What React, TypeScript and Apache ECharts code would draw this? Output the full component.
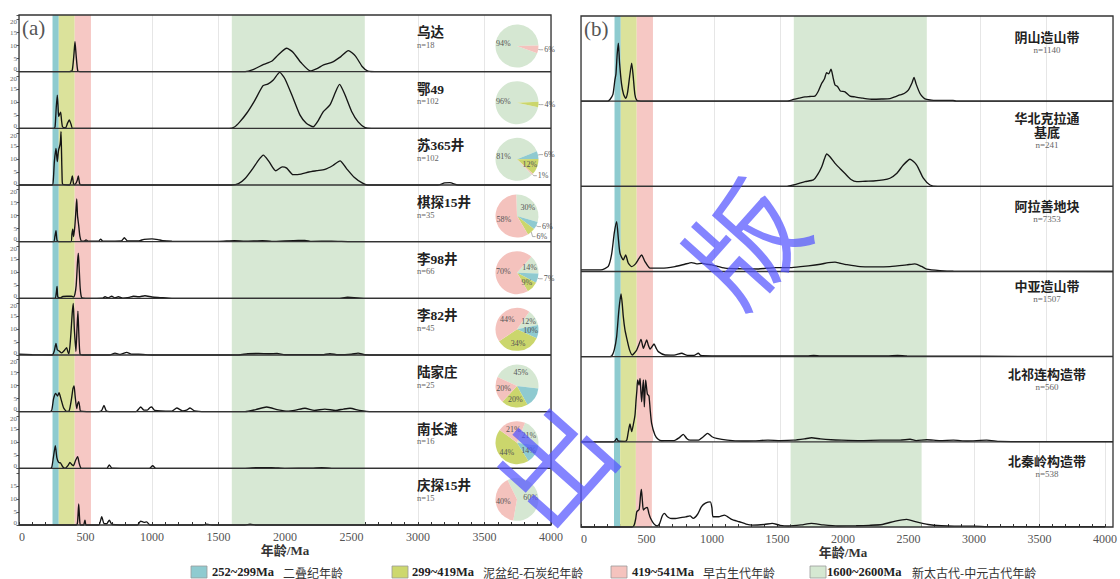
import React, { useEffect, useRef } from "react";
import * as echarts from "echarts";

// ---------------- axis ticks ----------------
const ageMin = 0;
const ageMax = 4000;
const ageStep = 500;
const densityTicksA = [0, 5, 10, 15, 20];

// ---------------- reference age bands ----------------
const bandRanges: [number, number][] = [
  [252, 299],
  [299, 419],
  [419, 541],
  [1600, 2600],
];
const bandAgeLabels = ["252~299Ma", "299~419Ma", "419~541Ma", "1600~2600Ma"];
const bandPeriodLabels = ["二叠纪年龄", "泥盆纪-石炭纪年龄", "早古生代年龄", "新太古代-中元古代年龄"];

// ---------------- panel (a) ----------------
const sitesA = ["乌达", "鄂49", "苏365井", "棋探15井", "李98井", "李82井", "陆家庄", "南长滩", "庆探15井"];
const countsA = [18, 102, 102, 35, 66, 45, 25, 16, 15];
// pie shares (%) : 1600~2600Ma, 252~299Ma, 299~419Ma, 419~541Ma
const shareArchean = [94, 96, 81, 30, 14, 12, 45, 21, 60];
const sharePermian = [0, 0, 6, 6, 7, 10, 15, 14, 0];
const shareDevCarb = [0, 4, 12, 6, 9, 34, 20, 44, 0];
const shareEarlyPal = [6, 0, 1, 58, 70, 44, 20, 21, 40];

const kdeWuda = [[0,0],[380,0],[400,0.5],[412,6],[421,11.5],[430,6],[442,0.3],[460,0],[1700,0],[1760,0.8],[1840,2.8],[1900,4],[1950,6.5],[2013,9],[2060,7.5],[2120,3.5],[2190,0.3],[2240,1.2],[2290,2.6],[2360,3.8],[2420,5.8],[2476,8.1],[2530,6],[2580,2],[2624,0.2],[2700,0],[4000,0]];
const kdeE49 = [[0,0],[260,0],[271,0.5],[280,8],[288,12.8],[294,8],[298,4.6],[306,5.5],[313,6.2],[320,3],[328,0.5],[350,0.2],[365,2],[378,3.2],[392,1.5],[403,0],[1580,0],[1620,0.5],[1660,2.5],[1712,5.8],[1770,10.5],[1835,16.4],[1870,17],[1910,18.5],[1960,21.5],[2000,19],[2062,11.5],[2113,5.1],[2160,2],[2212,0.6],[2250,3],[2288,6.4],[2338,9],[2380,14],[2410,16.9],[2450,13],[2501,6.5],[2550,2.5],[2602,0.3],[2650,0],[4000,0]];
const kdeSu365 = [[0,0],[250,0],[258,2],[266,9],[278,14.1],[284,11],[288,9],[294,12],[298,13.5],[308,15.4],[312,17],[316,20.5],[320,12],[324,3],[328,0.3],[380,0],[392,1.5],[401,3.5],[410,0.5],[420,0.2],[436,1.5],[446,3.5],[456,0.5],[470,0],[1600,0],[1650,0.5],[1700,2.5],[1760,6.5],[1800,9.5],[1837,11.5],[1880,9],[1930,5.5],[1980,7],[2013,6.5],[2060,4],[2120,4.2],[2180,5],[2240,5.5],[2300,6],[2360,7.5],[2414,9.3],[2460,6.5],[2520,3],[2580,0.8],[2620,0],[3150,0],[3200,0.8],[3240,0.9],[3300,0],[4000,0]];
const kdeQitan15 = [[0,0],[260,0],[270,2],[278,4.2],[286,0.5],[300,0],[390,0],[398,3],[404,4.8],[410,2],[420,6],[428,12],[434,16.4],[440,10],[449,6.2],[458,2],[471,0.2],[490,0.2],[504,0.7],[520,0.2],[600,0.2],[614,1],[630,0.2],[770,0.3],[792,1.5],[815,0.3],[900,0.3],[940,0.9],[1000,1.1],[1045,0.8],[1080,0.4],[1150,0.2],[1500,0.1],[1620,0.4],[1700,0.2],[1830,0.4],[1900,0.1],[2100,0.5],[2150,0.5],[2200,0.1],[2350,0.2],[2500,0],[4000,0]];
const kdeLi98 = [[0,0],[270,0],[280,2],[286,4.6],[292,0.5],[310,0.2],[330,0.7],[360,0.8],[395,0.8],[410,0.5],[420,1.5],[430,5],[440,14],[446,17.4],[452,12],[460,4],[471,0.3],[500,0],[630,0.1],[647,0.6],[670,0.2],[697,0.8],[720,0.2],[747,0.6],[780,0.1],[830,0.4],[860,0.8],[900,0.6],[947,1.0],[1000,0.5],[1060,0.3],[1150,0],[2400,0],[2470,0.4],[2520,0.3],[2600,0],[4000,0]];
const kdeLi82 = [[0,0.3],[100,0.1],[250,0],[265,1.5],[278,4.5],[288,2],[303,1.5],[320,0.8],[345,2],[358,2.8],[368,1.2],[376,0.5],[390,8],[400,16],[408,19.8],[416,10],[428,1.4],[436,10],[443,16.9],[450,8],[459,0.3],[480,0],[680,0],[722,0.7],[760,0.2],[810,1.0],[850,0.3],[900,0.3],[1000,0],[1650,0],[1720,0.5],[1800,0.6],[1880,0.5],[1940,0.6],[2000,0.1],[2280,0.1],[2338,0.5],[2400,0.1],[2500,0.3],[2549,0.7],[2600,0.1],[2700,0],[4000,0]];
const kdeLujiazhuang = [[0,0],[230,0],[246,0.5],[260,5],[276,7],[290,6],[301,7.3],[315,5],[335,1.5],[358,0.1],[375,0.2],[383,1.5],[395,5],[406,9],[414,9.9],[422,6],[434,1.2],[441,3],[449,3.8],[456,2],[464,0.2],[600,0],[622,0.5],[639,2.4],[655,0.4],[680,0],[880,0],[900,1],[915,1.8],[940,0.6],[965,0.6],[985,1.6],[998,1.8],[1020,0.5],[1150,0.2],[1186,1.4],[1230,0.3],[1260,0.6],[1286,1.4],[1320,0.3],[1400,0],[1700,0],[1780,0.8],[1862,1.8],[1950,0.7],[2020,0.2],[2080,0.6],[2150,1.3],[2220,0.5],[2300,1.0],[2380,0.5],[2440,1.0],[2489,1.3],[2560,0.5],[2650,0],[4000,0]];
const kdeNanchangtan = [[0,0],[235,0],[246,0.3],[258,4],[273,8.7],[285,4],[298,2.3],[313,2],[330,0.5],[346,0],[370,1.2],[383,2.3],[396,1.5],[409,1],[425,3],[441,4.5],[452,2],[464,0.2],[480,0],[660,0],[679,1.3],[700,0.1],[980,0],[1005,1.0],[1030,0],[1700,0],[1800,0.3],[1900,0.3],[2000,0],[2200,0.1],[2276,0.3],[2350,0],[4000,0]];
const kdeQingtan15 = [[0,0],[430,0],[440,1],[449,8.1],[456,2],[462,0],[485,0],[496,1.9],[505,0],[600,0],[622,3.2],[640,0.5],[660,0.5],[679,1.9],[700,0.2],[890,0],[915,1.5],[940,1.0],[960,1.2],[985,0],[1380,0],[1411,0.3],[1450,0],[1700,0],[1737,0.3],[1780,0],[4000,0]];
const kdeA = [kdeWuda, kdeE49, kdeSu365, kdeQitan15, kdeLi98, kdeLi82, kdeLujiazhuang, kdeNanchangtan, kdeQingtan15];

// ---------------- panel (b) ----------------
const regionsB = ["阴山造山带", "华北克拉通\n基底", "阿拉善地块", "中亚造山带", "北祁连构造带", "北秦岭构造带"];
const countsB = [1140, 241, 7353, 1507, 560, 538];

const kdeYinshan = [[0,0],[200,0],[218,2],[240,8],[255,25],[263,32],[272,55],[281,68],[290,45],[305,20],[320,8],[336,3.4],[350,10],[365,28],[381,44.5],[392,30],[405,8],[419,1],[450,0],[1550,0],[1597,2],[1640,3.5],[1684,5],[1720,5.5],[1759,6],[1785,12],[1810,21],[1830,26],[1847,33.5],[1862,32],[1880,37.5],[1895,28],[1910,19],[1930,17],[1950,12],[1985,11],[2023,6],[2060,5],[2120,3.5],[2195,2.2],[2260,2.5],[2323,3],[2360,5],[2398,7.3],[2430,9],[2461,13],[2490,22],[2504,28],[2520,20],[2549,9],[2575,4],[2599,2],[2650,1],[2797,1],[2820,0],[4000,0]];
const kdeNCCBasement = [[0,0],[1550,0],[1597,1.6],[1640,3.5],[1684,5.5],[1747,7.5],[1780,14],[1810,23],[1830,32],[1847,38],[1870,35],[1910,27],[1947,21],[1985,15],[2030,8],[2073,5.5],[2140,6],[2198,6.3],[2273,7.5],[2323,9.5],[2373,15],[2423,25],[2474,31.8],[2524,25],[2574,9.5],[2624,1.6],[2680,0],[4000,0]];
const kdeAlxa = [[0,2],[150,2],[205,6],[230,20],[250,45],[268,58.6],[280,40],[293,21.5],[318,13.6],[336,19.5],[355,10],[381,5.8],[410,9],[435,15],[456,19.5],[480,12],[519,3.9],[607,3.9],[707,5.8],[780,8.5],[832,10.5],[870,9],[907,9.7],[945,8.5],[983,7.8],[1083,3.9],[1200,3.2],[1333,3],[1459,4.6],[1584,4.6],[1709,6.6],[1800,8.5],[1860,10.5],[1910,11],[1947,9.7],[2000,8],[2098,5.8],[2200,5.5],[2323,5.8],[2449,7.8],[2511,9],[2560,6],[2599,2.7],[2699,1],[2800,0.3],[4000,0]];
const kdeCAOB = [[0,0],[215,0],[231,0.8],[250,8],[268,23.5],[285,55],[301,73.6],[310,62],[318,47],[330,32],[344,21.6],[365,8],[386,2],[400,4],[419,7.9],[435,14],[451,20.4],[469,9.9],[482,15],[494,19.6],[507,13],[519,9],[535,12],[549,14.9],[565,10],[581,5.9],[632,2],[700,1.8],[757,4],[800,1.5],[850,1.5],[882,4],[900,1.5],[1000,1],[1200,0.8],[1700,1],[1750,1.5],[1800,1],[2300,0.8],[2380,1.5],[2450,0.8],[3000,0.5],[4000,0.3]];
const kdeNQilian = [[0,0],[240,0],[255,1],[268,4],[280,1],[330,0.5],[344,2],[356,12],[368,21],[381,12],[393,20],[406,31.5],[414,49],[420,60],[426,72.6],[436,66.7],[444,74.5],[450,60],[456,47],[463,62],[469,72.6],[476,41],[481,58],[486,72.6],[499,56],[511,53.8],[520,38],[531,21.7],[556,8],[580,3],[607,1.3],[650,1.5],[700,1.5],[740,5],[769,8.8],[795,4],[820,2],[880,2],[920,6],[952,10],[985,6],[1020,4],[1100,2],[1208,1],[1300,1.2],[1406,2],[1500,1.5],[1600,2],[1680,3.5],[1734,4.8],[1800,3.5],[1880,2.5],[1960,2],[2100,1.5],[2250,2],[2400,2],[2474,3],[2520,1.5],[2600,2.5],[2700,1.5],[2800,2],[2900,1],[3050,2],[3150,0.5],[3300,0.3],[4000,0.2]];
const kdeNQinling = [[0,0],[390,0],[406,2.3],[418,10],[426,18],[444,20.7],[455,38],[461,44],[468,32],[476,20],[490,22],[506,23],[518,16],[531,10.2],[555,4],[581,1.2],[600,4],[620,13],[637,16],[660,12],[682,10.2],[720,10],[760,11],[800,12],[832,13],[857,10.2],[890,15],[920,24],[950,28],[987,29.5],[1000,22],[1008,12],[1050,12],[1095,14],[1150,9],[1208,6.2],[1260,3.5],[1308,2.3],[1400,3],[1459,4.3],[1520,2],[1584,1.2],[1680,2.5],[1759,4.3],[1850,2.5],[1960,1.2],[2100,1.5],[2200,2],[2300,3],[2400,7],[2486,9],[2560,6],[2650,3],[2750,1.5],[2850,1],[3000,1],[3100,0.5],[4000,0.3]];
const kdeB = [kdeYinshan, kdeNCCBasement, kdeAlxa, kdeCAOB, kdeNQilian, kdeNQinling];

// ---------------- layout & style (not data) ----------------
const LA = { left: 19, top: 15, width: 532, rowH: 56.667, yMax: 21.8 };
const LB = { left: 581, top: 16, width: 532, rowH: 85.17, yMax: 100 };
const bandColors = ["#8ecbcf", "#dbe29b", "#f6c8c4", "#d7e8d4"];
const pieColors = ["#d5e7d2", "#8fcad0", "#cbd66c", "#f4c2bd"];
const legendSwatchColors = ["#8fcbd0", "#cdd86e", "#f5c3be", "#d5e8d2"];
const pieStartAngles = [-20, -12, -46, 92, 48, 55, 155, 68, 116];
const labelOffsetsB = [21, 17, 20.6, 15.4, 18.3, 19.9];
const SERIF = '"Liberation Serif", "DejaVu Serif", "Noto Sans CJK SC", serif';
const CJK = '"Noto Sans CJK SC", sans-serif';
const legendSwatchX = [191, 392, 611, 810];
const legendAgeX = [212, 412, 632, 827];
const legendPeriodX = [283, 483, 703, 912];

function buildOption() {
  const grids: any[] = [];
  const xAxes: any[] = [];
  const yAxes: any[] = [];
  const series: any[] = [];
  const graphics: any[] = [];

  const markArea = {
    silent: true,
    data: bandRanges.map((r, i) => [
      { xAxis: r[0], itemStyle: { color: bandColors[i] } },
      { xAxis: r[1] },
    ]),
  };

  const makeX = (k: number, bottom: boolean) => ({
    gridIndex: k,
    type: "value",
    min: ageMin,
    max: ageMax,
    interval: ageStep,
    axisLine: { show: false },
    splitLine: { show: true, lineStyle: { color: "#e6e6e6", width: 1 } },
    axisTick: { show: bottom, inside: true, length: 3, lineStyle: { color: "#333" } },
    minorTick: { show: bottom, splitNumber: 5, length: 3, lineStyle: { color: "#333" } },
    axisLabel: {
      show: bottom,
      fontSize: 12,
      color: "#555",
      fontFamily: SERIF,
      margin: 6,
      alignMinLabel: "left",
      formatter: (v: number) => String(v),
    },
    name: bottom ? "年龄/Ma" : "",
    nameLocation: "middle",
    nameGap: 19,
    nameTextStyle: { fontSize: 13, fontWeight: "bold", color: "#333", fontFamily: SERIF },
  });

  // panel a rows
  kdeA.forEach((curve, i) => {
    const k = grids.length;
    const top = LA.top + i * LA.rowH;
    const last = i === kdeA.length - 1;
    grids.push({ left: LA.left, top, width: LA.width, height: LA.rowH });
    xAxes.push(makeX(k, last));
    yAxes.push({
      gridIndex: k,
      type: "value",
      min: 0,
      max: LA.yMax,
      interval: 5,
      axisLine: { show: false },
      splitLine: { show: false },
      axisTick: { show: true, length: 2.5, lineStyle: { color: "#555" } },
      axisLabel: {
        fontSize: 7,
        color: "#666",
        fontFamily: SERIF,
        margin: 2,
        formatter: (v: number) => {
          if (!densityTicksA.includes(v)) return "";
          if (v === 0) return "{lo|0}";
          if (v === 20) return last ? "" : "{hi|20}";
          return String(v);
        },
        rich: {
          lo: { fontSize: 7, color: "#666", fontFamily: SERIF, padding: [0, 0, 5, 0] },
          hi: { fontSize: 7, color: "#666", fontFamily: SERIF, padding: [5, 0, 0, 0] },
        },
      },
    });
    series.push({
      type: "line",
      xAxisIndex: k,
      yAxisIndex: k,
      data: curve,
      showSymbol: false,
      smooth: 0.2,
      clip: false,
      silent: true,
      z: 3,
      lineStyle: { color: "#151515", width: 1.35 },
      markArea,
    });

    const shares = [shareArchean[i], sharePermian[i], shareDevCarb[i], shareEarlyPal[i]];
    const pieData = shares
      .map((v, j) => ({ v, j }))
      .filter((d) => d.v > 0)
      .map((d) => {
        const small = d.v <= 7;
        return {
          value: d.v,
          name: bandAgeLabels[(d.j + 3) % 4],
          itemStyle: { color: pieColors[d.j] },
          label: small ? { position: "outside", distanceToLabelLine: 1 } : { position: "inside" },
          labelLine: small ? { show: true, length: 2, length2: 3, lineStyle: { color: "#777", width: 0.6 } } : { show: false },
        };
      });
    series.push({
      type: "pie",
      center: [517, top + 31],
      radius: 21.5,
      startAngle: pieStartAngles[i],
      clockwise: true,
      silent: true,
      avoidLabelOverlap: true,
      z: 4,
      label: { fontSize: 8, color: "#555", fontFamily: SERIF, formatter: "{c}%" },
      data: pieData,
    });

    graphics.push({
      type: "text",
      x: 417,
      y: top + 17.5,
      z: 110,
      style: { text: sitesA[i], fill: "#222", fontSize: 13.5, fontWeight: "bold", fontFamily: SERIF, textAlign: "left", textVerticalAlign: "middle" },
    });
    graphics.push({
      type: "text",
      x: 417,
      y: top + 29.5,
      z: 110,
      style: { text: "n=" + countsA[i], fill: "#666", fontSize: 8.5, fontFamily: SERIF, textAlign: "left", textVerticalAlign: "middle" },
    });
    if (!last) {
      graphics.push({
        type: "line",
        z: 100,
        shape: { x1: LA.left, y1: top + LA.rowH, x2: LA.left + LA.width, y2: top + LA.rowH },
        style: { stroke: "#333", lineWidth: 1.3 },
      });
    }
  });

  // panel b rows
  kdeB.forEach((curve, i) => {
    const k = grids.length;
    const top = LB.top + i * LB.rowH;
    grids.push({ left: LB.left, top, width: LB.width, height: LB.rowH });
    xAxes.push(makeX(k, i === kdeB.length - 1));
    yAxes.push({ gridIndex: k, type: "value", min: 0, max: LB.yMax, show: false });
    series.push({
      type: "line",
      xAxisIndex: k,
      yAxisIndex: k,
      data: curve,
      showSymbol: false,
      smooth: 0.2,
      clip: false,
      silent: true,
      z: 3,
      lineStyle: { color: "#151515", width: 1.35 },
      markArea,
    });
    const nameLines = regionsB[i].split("\n");
    nameLines.forEach((line, li) => {
      graphics.push({
        type: "text",
        x: 1047,
        y: top + labelOffsetsB[i] + li * 14,
        z: 110,
        style: { text: line, fill: "#222", fontSize: 13, fontWeight: "bold", fontFamily: SERIF, textAlign: "center", textVerticalAlign: "middle" },
      });
    });
    graphics.push({
      type: "text",
      x: 1047,
      y: top + labelOffsetsB[i] + 14 * (nameLines.length - 1) + 12.5,
      z: 110,
      style: { text: "n=" + countsB[i], fill: "#666", fontSize: 9, fontFamily: SERIF, textAlign: "center", textVerticalAlign: "middle" },
    });
    if (i < kdeB.length - 1) {
      graphics.push({
        type: "line",
        z: 100,
        shape: { x1: LB.left, y1: top + LB.rowH, x2: LB.left + LB.width, y2: top + LB.rowH },
        style: { stroke: "#333", lineWidth: 1.3 },
      });
    }
  });

  // frames
  graphics.push({
    type: "rect",
    z: 100,
    shape: { x: LA.left, y: LA.top, width: LA.width, height: LA.rowH * kdeA.length },
    style: { fill: "transparent", stroke: "#333", lineWidth: 1.3 },
  });
  graphics.push({
    type: "rect",
    z: 100,
    shape: { x: LB.left, y: LB.top, width: LB.width, height: LB.rowH * kdeB.length },
    style: { fill: "transparent", stroke: "#333", lineWidth: 1.3 },
  });
  // panel tags
  graphics.push({
    type: "text", x: 22, y: 28, z: 110,
    style: { text: "(a)", fill: "#555", fontSize: 21, fontFamily: SERIF, textAlign: "left", textVerticalAlign: "middle" },
  });
  graphics.push({
    type: "text", x: 584, y: 29, z: 110,
    style: { text: "(b)", fill: "#555", fontSize: 21, fontFamily: SERIF, textAlign: "left", textVerticalAlign: "middle" },
  });

  // legend
  bandAgeLabels.forEach((lab, i) => {
    graphics.push({
      type: "rect", z: 110,
      shape: { x: legendSwatchX[i], y: 566, width: 16, height: 12 },
      style: { fill: legendSwatchColors[i], stroke: "#999", lineWidth: 0.8 },
    });
    graphics.push({
      type: "text", x: legendAgeX[i], y: 572, z: 110,
      style: { text: lab, fill: "#222", fontSize: 12.5, fontWeight: "bold", fontFamily: SERIF, textAlign: "left", textVerticalAlign: "middle" },
    });
    graphics.push({
      type: "text", x: legendPeriodX[i], y: 572, z: 110,
      style: { text: bandPeriodLabels[i], fill: "#333", fontSize: 12, fontFamily: CJK, textAlign: "left", textVerticalAlign: "middle" },
    });
  });

  // watermark
  graphics.push({
    type: "text", x: 549, y: 461, rotation: 0.84, z: 200,
    style: { text: "出", fill: "rgba(85,85,255,0.72)", fontSize: 112, fontFamily: CJK, textAlign: "center", textVerticalAlign: "middle" },
  });
  graphics.push({
    type: "text", x: 741, y: 239, rotation: 0.84, z: 200,
    style: { text: "版", fill: "rgba(85,85,255,0.72)", fontSize: 112, fontFamily: CJK, textAlign: "center", textVerticalAlign: "middle" },
  });

  return {
    animation: false,
    backgroundColor: "#ffffff",
    grid: grids,
    xAxis: xAxes,
    yAxis: yAxes,
    series,
    graphic: graphics,
  };
}

export default function App() {
  const ref = useRef<HTMLDivElement>(null);
  useEffect(() => {
    if (!ref.current) return;
    const chart = echarts.init(ref.current, null, { renderer: "svg" });
    chart.setOption(buildOption() as any);
    return () => chart.dispose();
  }, []);
  return (
    <div
      ref={ref}
      style={{ position: "fixed", left: 0, top: 0, width: 1120, height: 579, background: "#fff" }}
    />
  );
}
